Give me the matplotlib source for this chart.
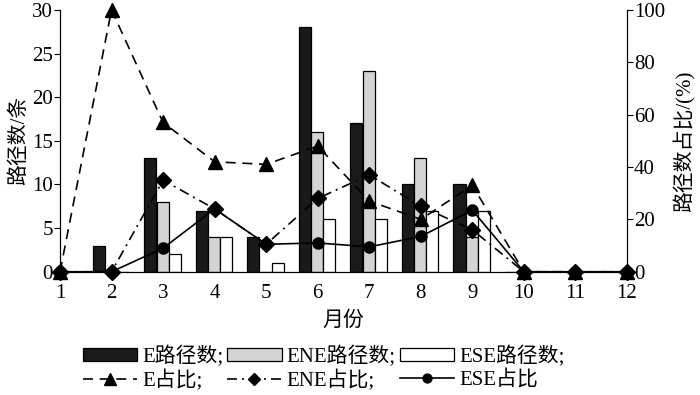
import matplotlib
matplotlib.use("Agg")
import matplotlib.pyplot as plt
import numpy as np

months = [1, 2, 3, 4, 5, 6, 7, 8, 9, 10, 11, 12]

# path counts per month
e_count = [0, 3, 13, 7, 4, 28, 17, 10, 10, 0, 0, 0]
ene_count = [0, 0, 8, 4, 0, 16, 23, 13, 4, 0, 0, 0]
ese_count = [0, 0, 2, 4, 1, 6, 6, 7, 7, 0, 0, 0]

# share of paths (%)
e_pct = [0, 100, 57, 42, 41, 48, 27, 20, 33, 0, 0, 0]
ene_pct = [0, 0, 35, 24, 10.5, 28, 37, 25, 16, 0, 0, 0]
ese_pct = [0, 0, 9, 24, 10.5, 11, 9.5, 13.5, 23.5, 0, 0, 0]

bar_labels = ["E路径数;", "ENE路径数;", "ESE路径数;"]
line_labels = ["E占比;", "ENE占比;", "ESE占比"]


def main():
    fam = ["Liberation Serif", "Noto Sans CJK SC"]
    plt.rcParams["font.family"] = fam
    font_size = 15

    fig = plt.figure(figsize=(7, 3.95), dpi=100)
    ax = fig.add_axes([0.0857, 0.312, 0.81, 0.663])
    x = np.array(months, dtype=float)
    w = 0.235

    b1 = ax.bar(x - 0.25, e_count, w, color="#1a1a1a", edgecolor="black", linewidth=0.9)
    b2 = ax.bar(x - 0.01, ene_count, w, color="#d4d4d4", edgecolor="black", linewidth=0.9)
    b3 = ax.bar(x + 0.225, ese_count, w, color="white", edgecolor="black", linewidth=0.9)

    ax.set_xlim(1, 12)
    ax.set_ylim(0, 30)
    ax.set_xticks(months)
    ax.set_yticks([0, 5, 10, 15, 20, 25, 30])
    ax.spines["top"].set_visible(False)
    ax.tick_params(axis="y", direction="out", length=4, labelsize=font_size, pad=1)
    ax.tick_params(axis="x", direction="in", length=0, labelsize=font_size, pad=9)
    ax.set_ylabel("路径数/条", size=font_size, labelpad=2)
    ax.set_xlabel("月份", size=font_size, labelpad=6)

    ax2 = ax.twinx()
    ax2.set_ylim(0, 100)
    ax2.set_yticks([0, 20, 40, 60, 80, 100])
    ax2.spines["top"].set_visible(False)
    ax2.tick_params(axis="y", direction="out", length=4, labelsize=font_size, pad=1)
    ax2.set_ylabel("路径数占比/(%)", size=font_size, labelpad=6)

    l1, = ax2.plot(x, e_pct, color="black", linewidth=1.2, dashes=(6, 4),
                   marker="^", markersize=10, clip_on=False)
    l2, = ax2.plot(x, ene_pct, color="black", linewidth=1.2, dashes=(6, 3, 1.2, 3),
                   marker="D", markersize=8, clip_on=False)
    l3, = ax2.plot(x, ese_pct, color="black", linewidth=1.2, linestyle="-",
                   marker="o", markersize=8, clip_on=False)

    handles = [b1, l1, b2, l2, b3, l3]
    labels = [bar_labels[0], line_labels[0], bar_labels[1], line_labels[1],
              bar_labels[2], line_labels[2]]
    fig.legend(handles, labels, loc="upper left", bbox_to_anchor=(0.118, 0.125),
               ncol=3, frameon=False, fontsize=font_size, handlelength=2.6,
               handleheight=0.6, handletextpad=0.25, columnspacing=0.2,
               labelspacing=0.15, borderpad=0, borderaxespad=0, markerscale=0.8)

    fig.savefig("out.png", dpi=100)
    plt.close()


if __name__ == '__main__':
    main()
